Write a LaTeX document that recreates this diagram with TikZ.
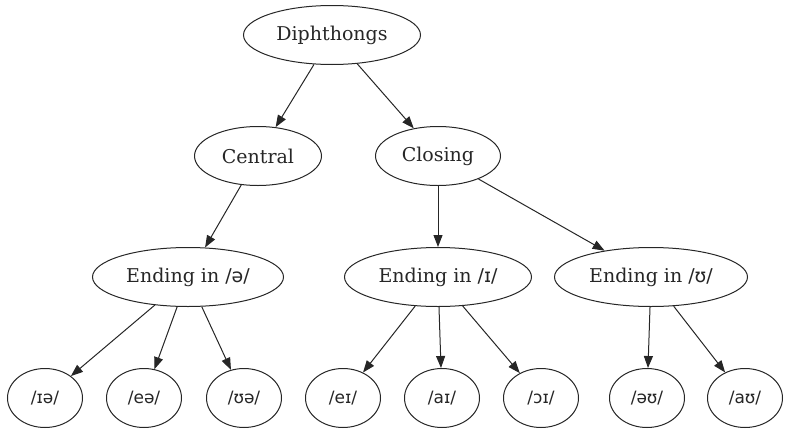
\documentclass[tikz,border=0pt]{standalone}
\usepackage{fontspec}
\setmainfont{DejaVu Serif}
\newfontfamily\ipafont{DejaVu Sans}
\usetikzlibrary{shapes,arrows.meta}
\newcommand{\ph}[1]{{\ipafont/#1/}}
\tikzstyle{phone}=[ellipse,draw=black!85,minimum height=59pt,inner sep=0pt,line width=1pt,text=black!85,font=\fontsize{19}{23}\selectfont]
\tikzstyle{edge} = [draw=black!85,line width=1pt,-{Triangle[length=12pt,width=9pt]}]

\begin{document}
\begin{tikzpicture}[x=1pt,y=-1pt]

  \path[use as bounding box] (0,0) rectangle (786,431);

  % top two rows
  \foreach \x/\y/\w/\name/\label in {332/35/177/root/Diphthongs, 258/156/127/cen/Central, 438/156/125/clo/Closing}
          \node[phone, minimum width=\w pt] (\name) at (\x, \y) {\label};

  \foreach \x/\y/\w/\name/\label in {188/277/191/E1/Ending in \ph{ə}, 438/277/187/E2/Ending in \ph{ɪ}, 651/277/193/E3/Ending in \ph{ʊ}}
          \node[phone, minimum width=\w pt] (\name) at (\x, \y) {\label};

  % leaves
  \foreach \x/\name/\label in {45/L1/ɪə, 144/L2/eə, 244/L3/ʊə, 343/L4/eɪ, 442/L5/aɪ, 541/L6/ɔɪ, 647/L7/əʊ, 745/L8/aʊ}
          \node[phone, minimum width=75pt, font=\fontsize{17}{21}\selectfont] (\name) at (\x, 398) {\ph{\label}};

  \foreach \source/ \dest in {root/cen, root/clo, cen/E1, clo/E2, clo/E3}
         \path[edge] (\source) -- (\dest);

  \foreach \source/ \dest in {E1/L1, E1/L2, E1/L3, E2/L4, E2/L5, E2/L6, E3/L7, E3/L8}
         \path[edge] (\source) -- (\dest);

\end{tikzpicture}
\end{document}
